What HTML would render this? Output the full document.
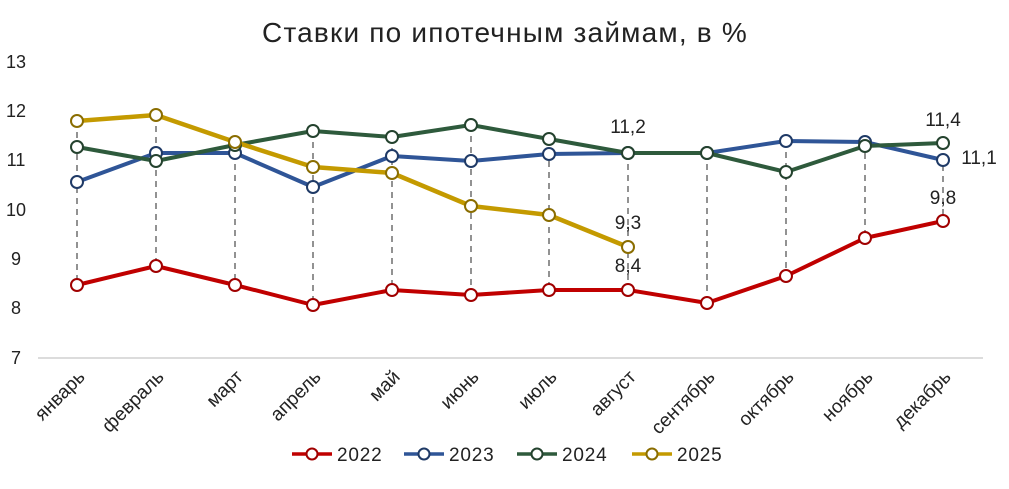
<!DOCTYPE html>
<html><head><meta charset="utf-8"><style>
body{margin:0;background:#fff;width:1009px;height:484px;overflow:hidden;font-family:"Liberation Sans",sans-serif}
text{font-family:"Liberation Sans","DejaVu Sans",sans-serif;fill:#222}
</style></head><body>
<svg width="1009" height="484" viewBox="0 0 1009 484">
<text x="505" y="42" font-size="28" letter-spacing="1.2" text-anchor="middle">Ставки по ипотечным займам, в %</text>
<g font-size="18" text-anchor="middle">
<text x="16" y="68">13</text><text x="16" y="117">12</text><text x="16" y="166">11</text><text x="16" y="216">10</text><text x="16" y="265">9</text><text x="16" y="314">8</text><text x="16" y="364">7</text>
</g>
<line x1="38" y1="358" x2="983" y2="358" stroke="#d0d0d0" stroke-width="1.5"/>
<g stroke="#777" stroke-width="1.6" stroke-dasharray="6,5">
<line x1="77" y1="121" x2="77" y2="285"/><line x1="156" y1="115" x2="156" y2="266"/><line x1="235" y1="142" x2="235" y2="285"/><line x1="313" y1="131" x2="313" y2="305"/><line x1="392" y1="137" x2="392" y2="290"/><line x1="471" y1="125" x2="471" y2="295"/><line x1="549" y1="139" x2="549" y2="290"/><line x1="628" y1="153" x2="628" y2="290"/><line x1="707" y1="153" x2="707" y2="303"/><line x1="786" y1="141" x2="786" y2="276"/><line x1="865" y1="142" x2="865" y2="238"/><line x1="943" y1="143" x2="943" y2="221"/>
</g>
<g fill="none" stroke-width="4" stroke-linejoin="round">
<polyline stroke="#c00000" points="77,285 156,266 235,285 313,305 392,290 471,295 549,290 628,290 707,303 786,276 865,238 943,221"/>
<polyline stroke="#2f5597" points="77,182 156,153 235,153 313,187 392,156 471,161 549,154 628,153 707,153 786,141 865,142 943,160"/>
<polyline stroke="#2e5a3c" points="77,147 156,161 235,145 313,131 392,137 471,125 549,139 628,153 707,153 786,172 865,146 943,143"/>
<polyline stroke="#c49a00" stroke-width="4.5" points="77,121 156,115 235,142 313,167 392,173 471,206 549,215 628,247"/>
</g>
<g fill="#fff" stroke-width="2">
<g stroke="#a00000"><circle cx="77" cy="285" r="6"/><circle cx="156" cy="266" r="6"/><circle cx="235" cy="285" r="6"/><circle cx="313" cy="305" r="6"/><circle cx="392" cy="290" r="6"/><circle cx="471" cy="295" r="6"/><circle cx="549" cy="290" r="6"/><circle cx="628" cy="290" r="6"/><circle cx="707" cy="303" r="6"/><circle cx="786" cy="276" r="6"/><circle cx="865" cy="238" r="6"/><circle cx="943" cy="221" r="6"/></g>
<g stroke="#1f3a66"><circle cx="77" cy="182" r="6"/><circle cx="156" cy="153" r="6"/><circle cx="235" cy="153" r="6"/><circle cx="313" cy="187" r="6"/><circle cx="392" cy="156" r="6"/><circle cx="471" cy="161" r="6"/><circle cx="549" cy="154" r="6"/><circle cx="628" cy="153" r="6"/><circle cx="707" cy="153" r="6"/><circle cx="786" cy="141" r="6"/><circle cx="865" cy="142" r="6"/><circle cx="943" cy="160" r="6"/></g>
<g stroke="#24422e"><circle cx="77" cy="147" r="6"/><circle cx="156" cy="161" r="6"/><circle cx="235" cy="145" r="6"/><circle cx="313" cy="131" r="6"/><circle cx="392" cy="137" r="6"/><circle cx="471" cy="125" r="6"/><circle cx="549" cy="139" r="6"/><circle cx="628" cy="153" r="6"/><circle cx="707" cy="153" r="6"/><circle cx="786" cy="172" r="6"/><circle cx="865" cy="146" r="6"/><circle cx="943" cy="143" r="6"/></g>
<g stroke="#8a6d00"><circle cx="77" cy="121" r="6"/><circle cx="156" cy="115" r="6"/><circle cx="235" cy="142" r="6"/><circle cx="313" cy="167" r="6"/><circle cx="392" cy="173" r="6"/><circle cx="471" cy="206" r="6"/><circle cx="549" cy="215" r="6"/><circle cx="628" cy="247" r="6"/></g>
</g>
<g font-size="19" text-anchor="middle">
<text x="628" y="133">11,2</text><text x="628" y="229">9,3</text><text x="628" y="272">8,4</text>
<text x="943" y="126">11,4</text><text x="943" y="204">9,8</text><text x="979" y="164">11,1</text>
</g>
<g font-size="19" text-anchor="end">
<text transform="translate(86,378) rotate(-45)">январь</text>
<text transform="translate(165,378) rotate(-45)">февраль</text>
<text transform="translate(244,378) rotate(-45)">март</text>
<text transform="translate(322,378) rotate(-45)">апрель</text>
<text transform="translate(401,378) rotate(-45)">май</text>
<text transform="translate(480,378) rotate(-45)">июнь</text>
<text transform="translate(558,378) rotate(-45)">июль</text>
<text transform="translate(637,378) rotate(-45)">август</text>
<text transform="translate(716,378) rotate(-45)">сентябрь</text>
<text transform="translate(795,378) rotate(-45)">октябрь</text>
<text transform="translate(874,378) rotate(-45)">ноябрь</text>
<text transform="translate(952,378) rotate(-45)">декабрь</text>
</g>
<g font-size="19" stroke-width="3.5">
<line x1="292" y1="454" x2="332" y2="454" stroke="#c00000"/><circle cx="312" cy="454" r="5.5" fill="#fff" stroke="#a00000" stroke-width="2"/><text x="337" y="461" letter-spacing="0.8">2022</text>
<line x1="404" y1="454" x2="444" y2="454" stroke="#2f5597"/><circle cx="424" cy="454" r="5.5" fill="#fff" stroke="#1f3a66" stroke-width="2"/><text x="449" y="461" letter-spacing="0.8">2023</text>
<line x1="517" y1="454" x2="557" y2="454" stroke="#2e5a3c"/><circle cx="537" cy="454" r="5.5" fill="#fff" stroke="#24422e" stroke-width="2"/><text x="562" y="461" letter-spacing="0.8">2024</text>
<line x1="632" y1="454" x2="672" y2="454" stroke="#c49a00"/><circle cx="652" cy="454" r="5.5" fill="#fff" stroke="#8a6d00" stroke-width="2"/><text x="677" y="461" letter-spacing="0.8">2025</text>
</g>
</svg>
</body></html>
